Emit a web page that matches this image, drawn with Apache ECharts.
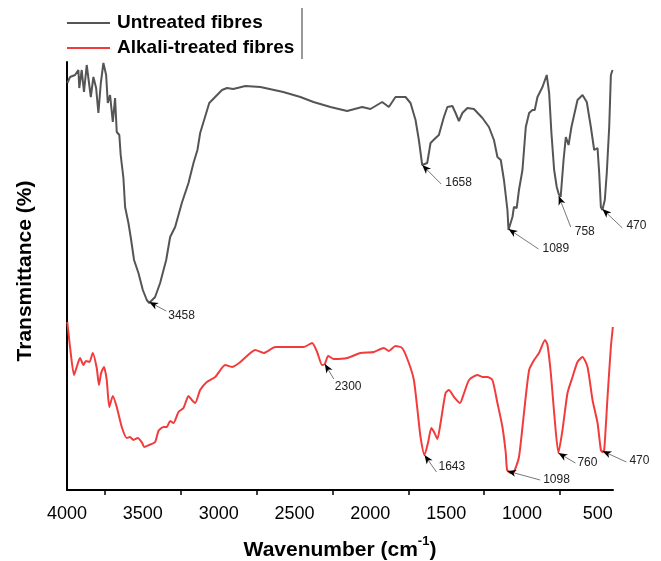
<!DOCTYPE html>
<html>
<head>
<meta charset="utf-8">
<script src="https://cdn.jsdelivr.net/npm/echarts@6/dist/echarts.min.js"></script>
<style>html,body{margin:0;padding:0;background:#fff}#c{width:661px;height:561px}</style>
</head>
<body>
<div id="c"></div>
<script>
// ---- data (wavenumber in cm-1, transmittance in arbitrary offset units) ----
const xTickLabels = [4000, 3500, 3000, 2500, 2000, 1500, 1000, 500];
const xMinorTicks = [3750, 3250, 2750, 2250, 1750, 1250, 750];

const untreatedWave = [3998,3980,3947,3925,3919,3903,3888,3870,3859,3843,3826,3808,3793,3777,3760,3742,3731,3716,3698,3683,3672,3655,3646,3628,3617,3595,3579,3558,3529,3500,3474,3458,3419,3386,3346,3320,3287,3243,3199,3166,3140,3122,3062,2978,2945,2904,2824,2725,2574,2461,2375,2263,2153,2054,1999,1922,1878,1834,1768,1735,1702,1680,1658,1625,1603,1570,1548,1515,1492,1459,1438,1416,1393,1360,1317,1261,1218,1185,1162,1140,1119,1096,1089,1063,1053,1035,1020,997,975,953,931,916,898,865,837,821,806,788,771,758,745,726,711,693,674,634,601,573,546,524,502,491,480,470,454,441,425,414,403];
const untreatedT = [407,413,415,420,402,420,398,425,427,393,413,402,377,407,427,415,387,395,368,392,358,355,335,312,283,267,252,230,217,200,190,187,193,207,230,253,263,287,307,327,340,357,387,400,402,401,404,403,398,393,388,383,379,383,381,388,383,393,393,387,370,350,325,327,347,352,355,373,383,384,377,369,377,382,381,372,363,350,333,330,310,280,260,273,283,282,300,320,363,377,380,380,393,403,415,397,357,320,303,296,293,330,353,345,363,390,395,388,363,340,342,317,283,280,290,317,363,415,420];

const alkaliWave = [3998,3980,3954,3936,3914,3892,3875,3852,3830,3804,3789,3775,3756,3738,3721,3698,3672,3639,3606,3585,3562,3533,3504,3491,3458,3419,3397,3364,3342,3320,3298,3265,3232,3199,3177,3155,3122,3078,3023,2957,2912,2857,2758,2703,2626,2527,2439,2384,2351,2318,2300,2278,2241,2153,2065,1977,1911,1878,1834,1790,1746,1713,1687,1669,1643,1620,1598,1580,1558,1537,1504,1482,1448,1409,1382,1349,1294,1261,1228,1195,1162,1129,1107,1098,1075,1053,1020,987,953,920,888,848,832,810,788,760,733,700,667,634,601,568,535,502,480,470,458,436,414,401];
const alkaliT = [168,143,115,123,132,125,129,128,137,122,105,117,123,110,83,94,83,63,52,53,50,52,47,43,45,48,59,63,63,69,67,78,82,94,90,87,100,108,113,125,123,128,140,137,143,143,143,147,138,125,126,134,131,132,137,138,142,139,144,142,127,110,77,53,35,47,62,58,51,67,97,100,93,87,97,110,115,113,113,110,87,63,37,20,17,18,33,77,120,130,137,150,145,117,77,37,60,97,113,128,133,123,90,67,40,38,40,93,143,163];

const untreatedPeaks = [3458, 1658, 1089, 758, 470];
const untreatedPeakT = [188, 325, 261, 294, 281];
const alkaliPeaks = [2300, 1643, 1098, 760, 470];
const alkaliPeakT = [126, 35, 19, 37, 39];

const seriesNames = ['Untreated fibres', 'Alkali-treated fibres'];

// ---- presentation ----
const GRAY = '#555555', RED = '#f23c3c';
// [line end dx, dy, label dx, dy] in pixels, relative to arrow tip / line end
const untreatedAnnOffsets = [[17,9,2,5],[19,19,4,-1],[30,20,4,0],[12,31,4,5],[20,19,4,-2]];
const alkaliAnnOffsets = [[9,15,1,8],[12,17,2,-5],[33,9,3,0],[17,10,2,0],[24,11,3,-1]];

function zip(a, b) { return a.map((v, i) => [v, b[i]]); }

function annSeries(waves, vals, offs) {
  return {
    type: 'custom',
    z: 10,
    silent: true,
    clip: false,
    data: waves.map((w, i) => [w, vals[i]]),
    encode: { x: 0, y: 1 },
    renderItem: function (params, api) {
      const tip = api.coord([api.value(0), api.value(1)]);
      const o = offs[params.dataIndex];
      const ex = tip[0] + o[0], ey = tip[1] + o[1];
      const ang = Math.atan2(o[1], o[0]);
      const L = 9, W = 3.6;
      const bx = tip[0] + Math.cos(ang) * L, by = tip[1] + Math.sin(ang) * L;
      const nx = -Math.sin(ang) * W, ny = Math.cos(ang) * W;
      const mx = tip[0] + Math.cos(ang) * (L - 2.5), my = tip[1] + Math.sin(ang) * (L - 2.5);
      return {
        type: 'group',
        children: [
          { type: 'line', shape: { x1: tip[0], y1: tip[1], x2: ex, y2: ey }, style: { stroke: '#555', lineWidth: 0.8 } },
          { type: 'polygon', shape: { points: [[tip[0], tip[1]], [bx + nx, by + ny], [mx, my], [bx - nx, by - ny]] }, style: { fill: '#000' } },
          { type: 'text', x: ex + o[2], y: ey + o[3], style: { text: String(api.value(0)), fontSize: 12, fontFamily: '"Liberation Sans", Arial, sans-serif', fill: '#222', align: 'left', verticalAlign: 'middle' } }
        ]
      };
    }
  };
}

const chart = echarts.init(document.getElementById('c'), null, { renderer: 'canvas' });
chart.setOption({
  animation: false,
  backgroundColor: '#fff',
  textStyle: { fontFamily: '"Liberation Sans", Arial, sans-serif' },
  grid: { left: 67, right: 48, top: 62, bottom: 71, containLabel: false, outerBoundsMode: 'none' },
  legend: {
    orient: 'vertical',
    left: 67,
    top: 13,
    padding: 0,
    itemGap: 5,
    itemWidth: 43,
    itemHeight: 2,
    icon: 'rect',
    data: seriesNames,
    textStyle: { fontSize: 19, fontWeight: 'bold', color: '#000', lineHeight: 20, padding: [0, 0, 0, 2] }
  },
  xAxis: {
    type: 'value',
    inverse: true,
    min: 400,
    max: 4000,
    name: '{b|Wavenumber (cm}{s|-1}{b|)}',
    nameLocation: 'middle',
    nameGap: 45,
    nameTextStyle: {
      rich: {
        b: { fontSize: 21, fontWeight: 'bold', color: '#000', lineHeight: 26, verticalAlign: 'bottom' },
        s: { fontSize: 13, fontWeight: 'bold', color: '#000', lineHeight: 26, verticalAlign: 'top', padding: [0, 0, 10, 0] }
      }
    },
    axisLine: { show: true, onZero: false, lineStyle: { color: '#000', width: 2 } },
    axisTick: { show: true, inside: false, length: 5, customValues: xMinorTicks, lineStyle: { color: '#000', width: 1.5 } },
    axisLabel: { customValues: xTickLabels, fontSize: 18, color: '#000', margin: 15, formatter: function (v) { return String(v); } },
    splitLine: { show: false }
  },
  yAxis: {
    type: 'value',
    min: 0,
    max: 428,
    name: 'Transmittance (%)',
    nameLocation: 'middle',
    nameRotate: 90,
    nameGap: 31,
    nameTextStyle: { fontSize: 21, fontWeight: 'bold', color: '#000', padding: [0, 0, 0, 10] },
    axisLine: { show: true, lineStyle: { color: '#000', width: 2 } },
    axisTick: { show: false },
    axisLabel: { show: false },
    splitLine: { show: false }
  },
  graphic: [
    { type: 'line', shape: { x1: 302, y1: 8, x2: 302, y2: 59 }, style: { stroke: '#333', lineWidth: 1 } }
  ],
  series: [
    { name: seriesNames[0], type: 'line', data: zip(untreatedWave, untreatedT), showSymbol: false, symbol: 'none', color: GRAY, lineStyle: { color: GRAY, width: 2 }, smooth: false },
    { name: seriesNames[1], type: 'line', data: zip(alkaliWave, alkaliT), showSymbol: false, symbol: 'none', color: RED, lineStyle: { color: RED, width: 2 }, smooth: 0.2 },
    annSeries(untreatedPeaks, untreatedPeakT, untreatedAnnOffsets),
    annSeries(alkaliPeaks, alkaliPeakT, alkaliAnnOffsets)
  ]
});
</script>
</body>
</html>
